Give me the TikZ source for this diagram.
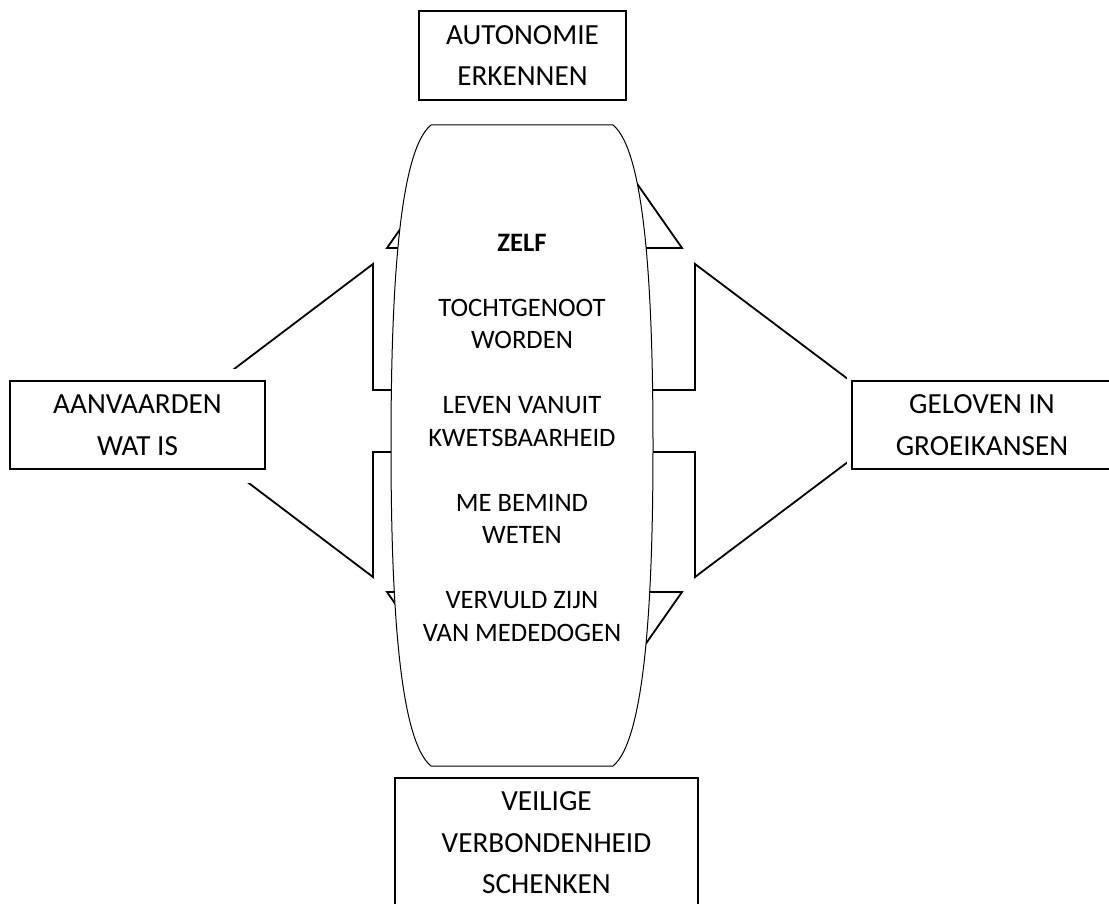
\documentclass[tikz,border=0pt]{standalone}
\usepackage{fontspec}
\setmainfont{Carlito}
\usepackage{tikz}

\begin{document}
\begin{tikzpicture}[x=0.5pt, y=-0.5pt,
    kader/.style={draw=black, line width=1.3pt, fill=white, inner sep=0pt, align=center, font=\fontsize{14.6}{20.8}\selectfont},
    pijl/.style={draw=black, line width=0.9pt, fill=white},
    ovaal/.style={draw=black, line width=0.5pt, fill=white},
    tekst/.style={align=center, inner sep=0pt, font=\fontsize{13.3}{16.25}\selectfont}]
    \useasboundingbox (0,0) rectangle (1109,904);
    \clip (0,0) rectangle (1109,904);

    % vierarmige pijl achter het ovaal
    \draw[pijl] (534.5,37) -- (682,248) -- (566,248) -- (566,300) -- (640,300) -- (640,390)
        -- (695,390) -- (695,264) -- (903,420.5) -- (695,577) -- (695,452) -- (640,452)
        -- (640,540) -- (566,540) -- (566,592) -- (682,592) -- (534.5,803) -- (387,592)
        -- (504,592) -- (504,540) -- (430,540) -- (430,452) -- (373,452) -- (373,577)
        -- (166,420.5) -- (373,264) -- (373,390) -- (430,390) -- (430,300) -- (504,300)
        -- (504,248) -- (387,248) -- cycle;

    % witte marge rond de kaders
    \fill[white] (414,0) rectangle (631,125);
    \fill[white] (5,369) rectangle (270,483);
    \fill[white] (847,369) rectangle (1115,483);
    \fill[white] (390,766) rectangle (703,904);

    \draw[ovaal] (431,125) -- (613,125) .. controls (645,151) and (653,290) .. (653,445.5)
        .. controls (653,600) and (645,740) .. (613,766) -- (431,766)
        .. controls (399,740) and (391,600) .. (391,445.5)
        .. controls (391,290) and (399,151) .. cycle;
    \node[tekst] (zelf) at (522,437.75) {\textbf{ZELF}\\[16.25pt]
        TOCHTGENOOT\\WORDEN\\[16.25pt]
        LEVEN VANUIT\\KWETSBAARHEID\\[16.25pt]
        ME BEMIND\\WETEN\\[16.25pt]
        VERVULD ZIJN\\VAN MEDEDOGEN};

    \node[kader, minimum width=103.5pt, minimum height=44.5pt] (autonomie) at (522.5,55.5) {AUTONOMIE\\ERKENNEN};
    \node[kader, minimum width=127.5pt, minimum height=44pt] (aanvaarden) at (137.5,425) {AANVAARDEN\\WAT IS};
    \node[kader, minimum width=130pt, minimum height=44pt] (geloven) at (982,425) {GELOVEN IN\\GROEIKANSEN};
    \node[kader, minimum width=151.5pt, minimum height=65pt] (veilige) at (546.5,843) {VEILIGE\\VERBONDENHEID\\SCHENKEN};
\end{tikzpicture}
\end{document}
